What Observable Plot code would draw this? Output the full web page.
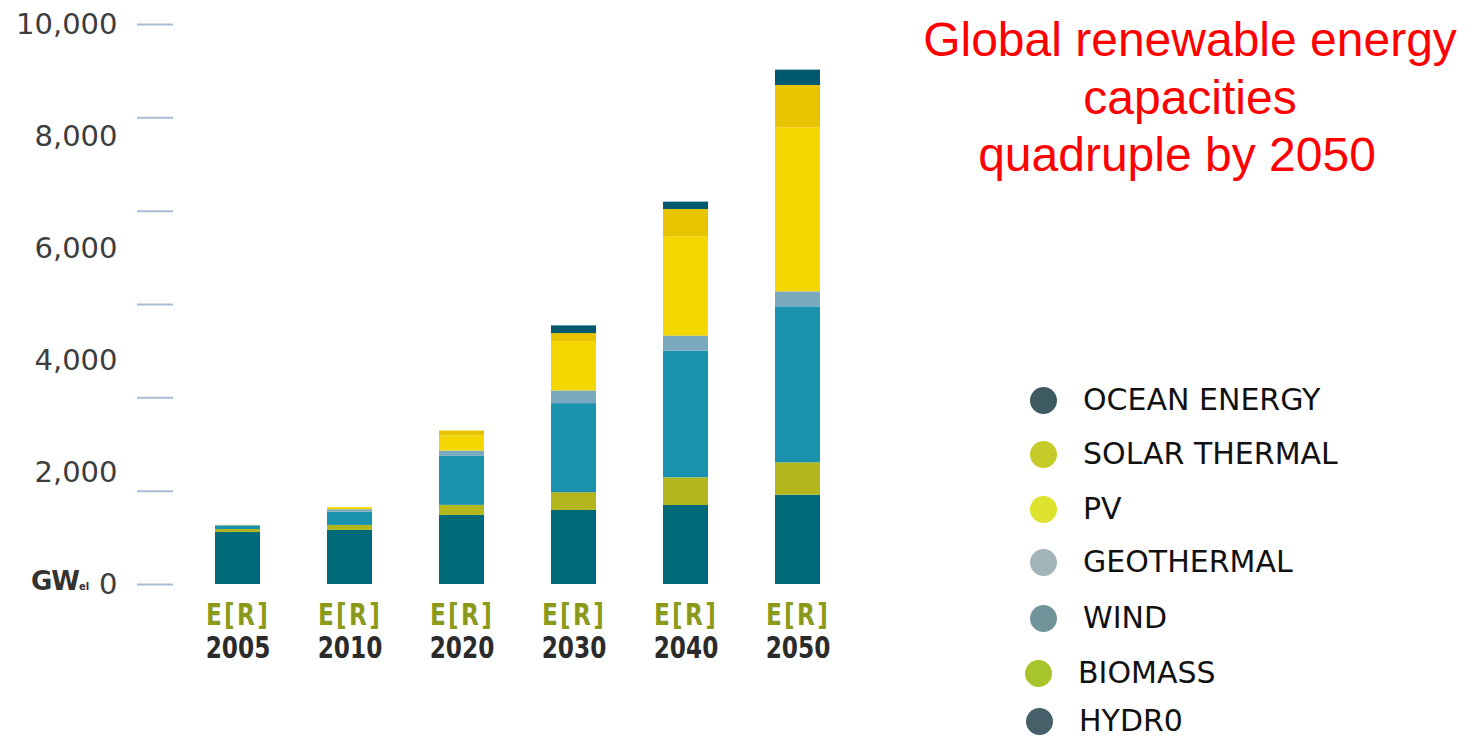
<!DOCTYPE html>
<html>
<head>
<meta charset="utf-8">
<script src="https://cdn.jsdelivr.net/npm/d3@7"></script>
<script src="https://cdn.jsdelivr.net/npm/@observablehq/plot@0.6"></script>
<style>
  html, body { margin: 0; padding: 0; background: #ffffff; }
  #wrap { position: relative; width: 1469px; height: 739px; overflow: hidden; background: #fff; }
  #chart { position: absolute; left: 0; top: 0; }
  #title { position: absolute; left: 900px; width: 580px; top: 11px; text-align: center; color: #ff0000;
           font-family: "Liberation Sans", Arial, sans-serif; font-size: 48px; line-height: 57.5px; }
  #title .l3 { padding-right: 26px; }
  #unit { position: absolute; left: 31px; top: 566px; font-family: "DejaVu Sans", sans-serif; font-weight: bold;
          font-size: 26px; color: #333; letter-spacing: -1px; }
  #unit sub { font-size: 10px; letter-spacing: 0; vertical-align: 0; }
  #legend { position: absolute; left: 0; top: 0; width: 1469px; height: 739px; pointer-events: none; }
  .item { position: absolute; display: flex; align-items: center; height: 30px; line-height: 30px;
          font-family: "DejaVu Sans", sans-serif; font-size: 30px; color: #111; }
  .dot { width: 27px; height: 27px; border-radius: 50%; margin-right: 26px; }
</style>
</head>
<body>
<div id="wrap">
  <div id="chart"></div>
  <div id="title">Global renewable energy<br>capacities<br><span class="l3">quadruple by 2050</span></div>
  <div id="unit">GW<sub>el</sub></div>
  <div id="legend"></div>
</div>
<script>
// ---- data (GW) ----
const years = ["2005", "2010", "2020", "2030", "2040", "2050"];
const sources = ["Hydro", "Biomass", "Wind", "Geothermal", "PV", "Solar thermal", "Ocean energy"];
const hydro        = [930, 966, 1234, 1323, 1411, 1595];
const biomass      = [52, 89, 179, 316, 494, 577];
const wind         = [62, 238, 882, 1591, 2262, 2786];
const geothermal   = [10, 43, 89, 226, 268, 268];
const pv           = [3, 36, 268, 882, 1774, 2929];
const solarThermal = [0, 0, 89, 143, 488, 756];
const ocean        = [0, 0, 0, 137, 131, 274];
const barColors    = ["#006a79", "#b3b71b", "#1b92ad", "#7aa8bc", "#f5d700", "#e8c300", "#00596e"];

// y axis: labels and (separately spaced) tick marks as drawn in the reference
const yLabelValues = [0, 2000, 4000, 6000, 8000, 10000];
const yTickValues  = [0, 1667, 3333, 5000, 6667, 8333, 10000];
const xScenarioLabel = "E[R]";

// legend (colours as shown in the reference legend)
const legendNames  = ["OCEAN ENERGY", "SOLAR THERMAL", "PV", "GEOTHERMAL", "WIND", "BIOMASS", "HYDR0"];
const legendColors = ["#3d5a63", "#c5cc2a", "#dde32e", "#a2b5b8", "#6f959b", "#a7c52b", "#456068"];

const seriesArrays = [hydro, biomass, wind, geothermal, pv, solarThermal, ocean];
const table = [];
years.forEach((yr, i) => {
  sources.forEach((s, k) => table.push({year: yr, source: s, value: seriesArrays[k][i]}));
});

const xFont = "DejaVu Sans, sans-serif";
const chart = Plot.plot({
  width: 1469,
  height: 739,
  marginLeft: 173,
  marginRight: 607,
  marginTop: 24,
  marginBottom: 155,
  style: {background: "transparent", fontFamily: "DejaVu Sans, sans-serif"},
  x: {domain: years, paddingInner: 0.6, paddingOuter: 0.355, align: 0.5, axis: null},
  y: {domain: [0, 10000], axis: null},
  color: {domain: sources, range: barColors},
  marks: [
    Plot.barY(table, {x: "year", y: "value", fill: "source"}),
    Plot.axisY({ticks: yTickValues, tickSize: 36, tickFormat: () => "", stroke: "#a9bcd6", strokeWidth: 2, label: null}),
    Plot.axisY({ticks: yLabelValues, tickSize: 0, tickPadding: 56, tickFormat: d3.format(","),
                fontSize: 29, fill: "#3d3d3d", fontFamily: "DejaVu Sans, sans-serif", label: null}),
    Plot.axisX({tickSize: 0, tickPadding: 18, tickFormat: () => xScenarioLabel, fontSize: 31, fontWeight: "bold",
                fill: "#8b9a1b", fontFamily: xFont, label: null}),
    Plot.axisX({tickSize: 0, tickPadding: 51, fontSize: 31, fontWeight: "bold",
                fill: "#2b2b2b", fontFamily: xFont, label: null})
  ]
});
document.getElementById("chart").appendChild(chart);
// condensed look of the category labels
const xLabelGroups = d3.select(chart).selectAll('g[aria-label="x-axis tick label"]');
xLabelGroups.each(function(d, gi) {
  d3.select(this).selectAll("text").each(function() {
    const t = d3.select(this);
    const tr = t.attr("transform") || "";
    t.attr("transform", tr + " scale(0.75,1)");
    if (gi === 0) t.style("letter-spacing", "3px");
  });
});

// legend
const legendLeft = [1030, 1030, 1030, 1030, 1030, 1025, 1026];
const legendTop  = [385, 439, 494, 547, 603, 658, 706];
const legend = document.getElementById("legend");
legendNames.forEach((n, i) => {
  const it = document.createElement("div");
  it.className = "item";
  it.style.left = legendLeft[i] + "px";
  it.style.top = legendTop[i] + "px";
  const dot = document.createElement("div");
  dot.className = "dot";
  dot.style.background = legendColors[i];
  const t = document.createElement("span");
  t.textContent = n;
  it.appendChild(dot); it.appendChild(t);
  legend.appendChild(it);
});
</script>
</body>
</html>
